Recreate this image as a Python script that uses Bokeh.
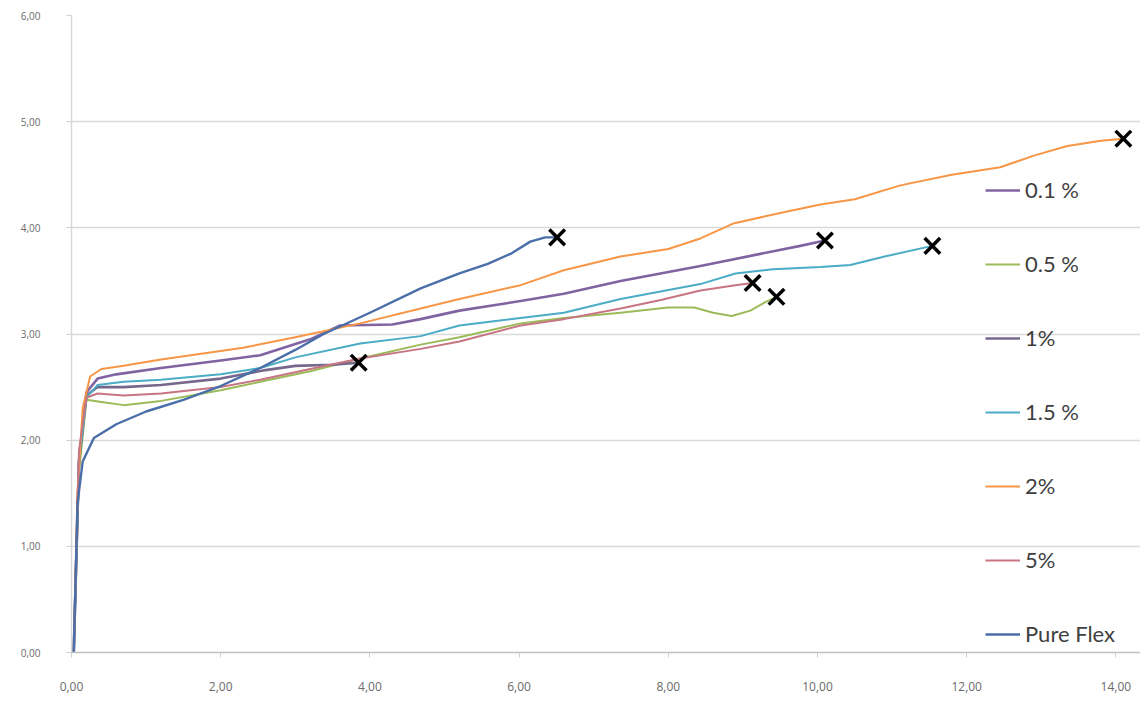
from bokeh.plotting import figure
from bokeh.models import Legend, LegendItem, CustomJSTickFormatter, FixedTicker, Range1d
from bokeh.embed import file_html
from bokeh.resources import INLINE

# ---- data ----
series_names = ["0.1 %", "0.5 %", "1%", "1.5 %", "2%", "5%", "Pure Flex"]
series_colors = ["#8064A2", "#9BBB59", "#76688c", "#4BACC6", "#F79646", "#c77582", "#4a6ea8"]

x_01 = [0.03, 0.10, 0.20, 0.35, 0.60, 1.20, 2.00, 2.53, 3.20, 3.60, 4.30, 4.68, 5.20, 6.02, 6.60, 7.36, 8.43, 9.20, 9.77, 10.10]
y_01 = [0.00, 1.80, 2.45, 2.58, 2.62, 2.68, 2.75, 2.80, 2.95, 3.08, 3.09, 3.14, 3.22, 3.31, 3.38, 3.50, 3.64, 3.75, 3.83, 3.88]

x_05 = [0.03, 0.10, 0.20, 0.40, 0.70, 1.20, 2.00, 2.53, 3.20, 3.87, 4.68, 5.20, 6.02, 6.60, 7.36, 8.00, 8.35, 8.60, 8.85, 9.10, 9.30, 9.45]
y_05 = [0.00, 1.70, 2.38, 2.36, 2.33, 2.37, 2.47, 2.55, 2.65, 2.77, 2.90, 2.97, 3.10, 3.15, 3.20, 3.25, 3.25, 3.20, 3.17, 3.22, 3.30, 3.35]

x_1 = [0.03, 0.10, 0.20, 0.35, 0.70, 1.20, 2.00, 2.60, 3.00, 3.50, 3.85]
y_1 = [0.00, 1.80, 2.42, 2.50, 2.50, 2.52, 2.58, 2.66, 2.70, 2.71, 2.73]

x_15 = [0.03, 0.10, 0.20, 0.35, 0.70, 1.20, 2.00, 2.53, 3.00, 3.87, 4.68, 5.20, 6.02, 6.60, 7.36, 8.43, 8.90, 9.40, 10.04, 10.44, 10.90, 11.54]
y_15 = [0.00, 1.80, 2.40, 2.52, 2.55, 2.57, 2.62, 2.68, 2.78, 2.91, 2.98, 3.08, 3.15, 3.20, 3.33, 3.47, 3.57, 3.61, 3.63, 3.65, 3.73, 3.83]

x_2 = [0.03, 0.08, 0.15, 0.25, 0.40, 0.70, 1.20, 2.30, 3.00, 3.87, 4.68, 5.20, 6.02, 6.60, 7.36, 8.00, 8.43, 8.87, 9.50, 10.04, 10.50, 11.11, 11.80, 12.45, 12.90, 13.35, 13.80, 14.10]
y_2 = [0.00, 1.50, 2.30, 2.60, 2.67, 2.70, 2.76, 2.87, 2.97, 3.10, 3.24, 3.33, 3.46, 3.60, 3.73, 3.80, 3.90, 4.04, 4.14, 4.22, 4.27, 4.40, 4.50, 4.57, 4.68, 4.77, 4.82, 4.84]

x_5 = [0.03, 0.10, 0.20, 0.35, 0.70, 1.20, 2.00, 2.53, 3.20, 3.87, 4.68, 5.20, 6.02, 6.60, 7.36, 7.90, 8.43, 8.90, 9.13]
y_5 = [0.00, 1.90, 2.40, 2.44, 2.42, 2.44, 2.50, 2.57, 2.67, 2.77, 2.86, 2.93, 3.08, 3.14, 3.24, 3.32, 3.41, 3.46, 3.48]

x_pf = [0.03, 0.08, 0.15, 0.30, 0.60, 1.00, 1.50, 2.00, 2.53, 3.00, 3.38, 4.00, 4.68, 5.20, 5.58, 5.90, 6.15, 6.35, 6.51]
y_pf = [0.00, 1.40, 1.80, 2.02, 2.15, 2.27, 2.38, 2.51, 2.68, 2.85, 3.00, 3.20, 3.43, 3.57, 3.66, 3.76, 3.87, 3.91, 3.91]

series_x = [x_01, x_05, x_1, x_15, x_2, x_5, x_pf]
series_y = [y_01, y_05, y_1, y_15, y_2, y_5, y_pf]
series_width = [2.6, 2.0, 2.6, 2.0, 2.0, 2.0, 2.4]

x_ticks = [0, 2, 4, 6, 8, 10, 12, 14]
y_ticks = [0, 1, 2, 3, 4, 5, 6]

# ---- figure ----
p = figure(width=1140, height=700, output_backend="svg", toolbar_location=None,
           x_range=Range1d(0, 14.33), y_range=Range1d(0, 6),
           min_border_left=71, min_border_right=0, min_border_top=15, min_border_bottom=48)
p.outline_line_color = None
p.background_fill_color = "white"

fmt = CustomJSTickFormatter(code="return tick.toFixed(2).replace('.', ',');")

p.xaxis.ticker = FixedTicker(ticks=x_ticks)
p.yaxis.ticker = FixedTicker(ticks=y_ticks)
p.xaxis.formatter = fmt
p.yaxis.formatter = fmt
for ax in (p.xaxis, p.yaxis):
    ax.major_label_text_font = "Open Sans"
    ax.major_label_text_color = "#6a6a6a"
    ax.minor_tick_line_color = None
    ax.major_tick_in = 0
    ax.major_tick_out = 5
    ax.major_tick_line_color = "#cfcfcf"
p.xaxis.major_label_text_font_size = "12px"
p.yaxis.major_label_text_font_size = "10px"
p.xaxis.major_label_standoff = 24
p.yaxis.major_label_standoff = 26
p.xaxis.axis_line_color = "#bfbfbf"
p.yaxis.axis_line_color = "#d9d9d9"
p.xaxis.axis_line_width = 1.5
p.yaxis.axis_line_width = 1.5

p.xgrid.grid_line_color = None
p.ygrid.grid_line_color = "#d9d9d9"
p.ygrid.grid_line_width = 1.6

items = []
for name, color, xs, ys, w in zip(series_names, series_colors, series_x, series_y, series_width):
    r = p.line(xs, ys, line_color=color, line_width=w, line_join="round")
    items.append(LegendItem(label=name, renderers=[r]))

# end-of-test crosses
end_x = [xs[-1] for xs in series_x]
end_y = [ys[-1] for ys in series_y]
p.scatter(end_x, end_y, marker="x", size=22, line_color="black", line_width=3.5)

legend = Legend(items=items, location=(914, 5), orientation="vertical",
                padding=0, margin=0, spacing=47,
                glyph_width=35, glyph_height=20, label_height=20, label_standoff=5,
                label_text_font="Lato", label_text_font_size="22px", label_text_color="#3f3f3f",
                background_fill_alpha=0, border_line_color=None)
p.add_layout(legend, "center")

open("out.html", "w").write(file_html(p, INLINE))
